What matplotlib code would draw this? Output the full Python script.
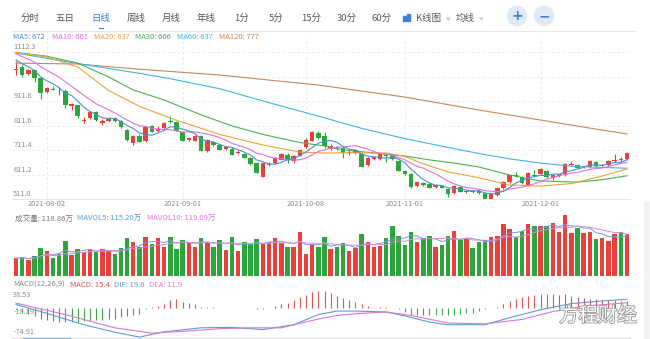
import numpy as np
import pandas as pd
import matplotlib
matplotlib.use("Agg")
import matplotlib.pyplot as plt
import matplotlib.patheffects as pe
from matplotlib.patches import Ellipse, Rectangle
from matplotlib.lines import Line2D

plt.rcParams['font.family'] = ['Noto Sans CJK SC', 'DejaVu Sans']

W, H = 650, 339

# daily candles, 2021-07-26 .. 2021-12-21
opens = [1038, 1051, 1022, 1037, 1006, 948, 962, 958, 953, 893,
         895, 828, 842, 865, 822, 832, 842, 830, 795, 740,
         767, 748, 808, 790, 801, 830, 826, 785, 752, 750,
         768, 708, 744, 730, 716, 716, 699, 695, 680, 658,
         602, 652, 658, 672, 690, 665, 688, 724, 750, 780,
         768, 716, 724, 720, 698, 700, 695, 651, 676, 676,
         692, 690, 666, 626, 613, 565, 578, 572, 560, 566,
         552, 536, 560, 540, 544, 544, 536, 513, 527, 556,
         581, 611, 601, 568, 609, 613, 626, 597, 605, 609,
         652, 650, 640, 642, 662, 648, 650, 666, 674, 675]
closes = [1042, 1018, 1039, 1006, 945, 965, 958, 955, 895, 900,
          850, 833, 867, 834, 830, 840, 830, 806, 752, 769,
          746, 805, 787, 798, 822, 824, 790, 750, 760, 769,
          708, 752, 730, 713, 722, 693, 705, 680, 656, 618,
          658, 656, 679, 695, 672, 687, 711, 752, 785, 762,
          726, 727, 716, 700, 702, 710, 643, 678, 683, 694,
          688, 676, 627, 614, 561, 580, 570, 557, 568, 557,
          532, 564, 541, 544, 541, 536, 512, 531, 556, 581,
          609, 606, 577, 617, 605, 634, 601, 609, 612, 654,
          656, 638, 643, 666, 646, 651, 666, 672, 670, 699]
highs = [1075, 1058, 1042, 1040, 1010, 968, 975, 968, 960, 905,
         897, 848, 870, 870, 838, 846, 847, 833, 798, 772,
         778, 808, 815, 808, 825, 850, 830, 788, 766, 772,
         772, 755, 750, 734, 728, 724, 712, 700, 683, 662,
         660, 662, 683, 698, 698, 692, 714, 760, 790, 790,
         785, 735, 728, 724, 712, 714, 703, 682, 688, 698,
         700, 694, 670, 630, 616, 583, 582, 576, 572, 570,
         556, 568, 564, 549, 548, 548, 540, 534, 560, 584,
         612, 620, 604, 620, 630, 637, 630, 612, 615, 657,
         666, 653, 648, 669, 666, 655, 669, 695, 682, 705]
lows = [1018, 1012, 1018, 990, 920, 945, 955, 935, 883, 875,
        842, 820, 838, 830, 813, 824, 826, 803, 750, 732,
        744, 745, 783, 787, 798, 820, 788, 748, 748, 748,
        706, 705, 726, 710, 712, 690, 697, 677, 652, 616,
        600, 645, 655, 670, 658, 660, 685, 720, 748, 758,
        720, 712, 712, 680, 693, 697, 640, 648, 672, 672,
        662, 672, 624, 611, 558, 562, 566, 554, 556, 554,
        519, 533, 538, 535, 537, 532, 511, 511, 524, 553,
        578, 600, 574, 565, 600, 610, 598, 590, 602, 606,
        648, 635, 636, 639, 643, 644, 647, 663, 664, 672]
# closes before the window, only used to start MA5 / MA10
prior_closes = [1140, 1135, 1130, 1128, 1117, 1100, 1095, 1085, 1078]

# volume, in 万
volumes = [50, 53, 45, 57, 80, 71, 50, 61, 99, 59,
           75, 69, 76, 69, 75, 71, 61, 78, 107, 95,
           83, 110, 91, 108, 81, 110, 75, 102, 97, 81,
           108, 95, 83, 102, 74, 111, 72, 97, 91, 104,
           92, 95, 107, 92, 83, 83, 125, 61, 90, 81,
           111, 76, 81, 94, 71, 78, 118, 95, 83, 85,
           107, 142, 114, 88, 123, 97, 107, 114, 83, 87,
           114, 128, 101, 107, 80, 95, 101, 111, 114, 147,
           133, 110, 128, 147, 142, 140, 142, 149, 124, 171,
           122, 137, 122, 125, 104, 107, 99, 118, 124, 118.86]

# longer moving averages read at sample candles
ma20_idx = [0, 5, 10, 15, 20, 25, 33, 40, 46, 50, 55, 60, 63, 66, 70, 75, 80, 85, 90, 95, 99]
ma20_val = [1110, 1092, 1051, 955, 890, 842, 775, 732, 703, 699, 700, 699, 685, 655, 622, 598, 568, 564, 574, 605, 634]
ma30_idx = [0, 5, 10, 15, 19, 24, 30, 35, 40, 46, 50, 53, 57, 63, 67, 71, 75, 80, 85, 91, 95, 99]
ma30_val = [1110, 1095, 1067, 1010, 957, 916, 855, 810, 775, 742, 728, 712, 702, 687, 671, 658, 642, 609, 585, 580, 590, 606]
ma60_idx = [0, 10, 20, 25, 33, 41, 49, 56, 63, 70, 75, 80, 85, 90, 95, 99]
ma60_val = [1108, 1065, 1025, 1003, 962, 905, 850, 800, 758, 722, 697, 675, 658, 645, 640, 637]
ma120_idx = [0, 10, 20, 33, 49, 63, 75, 85, 92, 99]
ma120_val = [1067, 1063, 1042, 1018, 977, 928, 875, 834, 805, 777]

# MACD(12,26,9)
macd_hist = [-3, -8, -13, -18, -24, -28, -30, -31, -32, -32,
             -31, -30, -29, -28, -27, -26, -24, -21, -19, -17,
             -14, -3, 2, 5, 10, 17, 20, 14, 12, 9,
             3, 2, 1.5, 1, 1, 0.8, 0.5, 0.5, -1, -2,
             -1.5, 1, 4, 8, 12, 17, 25, 30, 36, 38,
             38, 35, 28, 22, 17, 13, 8, 4, 1, 2,
             1.5, 1, -2, -10, -16, -17, -17, -17, -16, -16,
             -17, -15, -14, -12, -11, -6, -3, -1, 3, 9,
             15, 20, 24, 28, 30, 32, 31, 32, 30, 32,
             28, 24, 23, 21, 20, 18, 17, 17, 16, 15.4]
dif_idx = [0, 4, 11, 16, 20, 24, 30, 35, 40, 45, 49, 52, 55, 60, 63, 67, 70, 76, 80, 85, 90, 95, 99]
dif_val = [8, -8, -38, -55, -66, -54, -45, -44, -49, -38, -15, -7, -7, -9, -18, -32, -38, -38, -22, -4, 10, 16, 19.6]
dea_idx = [0, 8, 16, 22, 27, 33, 38, 43, 49, 52, 55, 60, 64, 70, 76, 82, 87, 92, 99]
dea_val = [11, -15, -45, -57, -53, -47, -45, -45, -25, -17, -13, -9, -17, -34, -36, -26, -8, 4, 11.9]

date_ticks = [5, 27, 47, 63, 85]
date_labels = ['2021-08-02', '2021-09-01', '2021-10-08', '2021-11-01', '2021-12-01']
price_grid = [511.0, 611.2, 711.4, 811.6, 911.8, 1012.0, 1112.3]
price_labels = ['511.0', '611.2', '711.4', '811.6', '911.8', '', '1112.3']
macd_ticks = [38.53, -18.19, -74.91]

RED = '#e8413c'
GREEN = '#2ba53c'
C_MA5, C_MA10, C_MA20 = '#4a8fd6', '#e070e0', '#f0a23a'
C_MA30, C_MA60, C_MA120 = '#4caf50', '#3fb5e0', '#c8855a'
GRID = '#e6e6e6'
TXT = '#8a8a8a'


def rect(x0, y0, x1, y1):
    return [x0 / W, 1 - y1 / H, (x1 - x0) / W, (y1 - y0) / H]


def ftext(x, y, s, **kw):
    kw.setdefault('va', 'center')
    fig.text(x / W, 1 - y / H, s, **kw)


fig = plt.figure(figsize=(W / 100, H / 100), dpi=100)
fig.patch.set_facecolor('white')

x = np.arange(len(closes))
o, c, h, l = (np.array(a, dtype=float) for a in (opens, closes, highs, lows))
colors = np.where(c >= o, RED, GREEN)
xlim = (-0.65, 99.5)

# ---- price panel ----
ax = fig.add_axes(rect(12, 37, 630, 199))
ax.set_xlim(*xlim)
ax.set_ylim(511.0, 1173.6)
for v in price_grid:
    ax.axhline(v, color=GRID, lw=0.6, ls=(0, (3, 3)), zorder=0)
for t in date_ticks:
    ax.axvline(t, color=GRID, lw=0.6, ls=(0, (3, 3)), zorder=0)
for v, lab in zip(price_grid, price_labels):
    ax.annotate(lab, (0.002, v), xycoords=ax.get_yaxis_transform(), xytext=(0, 3.6),
                textcoords='offset points', va='center', ha='left', fontsize=5.3, color=TXT)
for t, lab in zip(date_ticks, date_labels):
    ax.annotate(lab, (t, 0), xycoords=ax.get_xaxis_transform(), xytext=(0, -3.8),
                textcoords='offset points', va='center', ha='center', fontsize=5.3, color=TXT)

ax.vlines(x, l, h, colors=colors, lw=0.8, zorder=2)
ax.bar(x, np.maximum(np.abs(c - o), 2.5), bottom=np.minimum(o, c), width=0.72,
       color=colors, linewidth=0, zorder=2)

full = pd.Series(prior_closes + closes, dtype=float)
ma5 = full.rolling(5).mean().iloc[len(prior_closes):].values
ma10 = full.rolling(10).mean().iloc[len(prior_closes):].values
ax.plot(ma120_idx, ma120_val, color=C_MA120, lw=0.8, zorder=3)
ax.plot(ma60_idx, ma60_val, color=C_MA60, lw=0.8, zorder=3)
ax.plot(ma30_idx, ma30_val, color=C_MA30, lw=0.8, zorder=3)
ax.plot(ma20_idx, ma20_val, color=C_MA20, lw=0.8, zorder=3)
ax.plot(x, ma10, color=C_MA10, lw=0.8, zorder=3)
ax.plot(x, ma5, color=C_MA5, lw=0.8, zorder=3)

for s in ['top', 'right', 'left']:
    ax.spines[s].set_visible(False)
ax.spines['bottom'].set_color('#e2e2e2')
ax.spines['bottom'].set_linewidth(0.6)
ax.set_xticks([])
ax.set_yticks([])
ax.patch.set_alpha(0)

# ---- volume panel ----
axv = fig.add_axes(rect(12, 213, 630, 276))
axv.set_xlim(*xlim)
axv.set_ylim(0, 178)
axv.bar(x, volumes, width=0.72, color=colors, linewidth=0, zorder=2)
vol = pd.Series(volumes, dtype=float)
axv.plot(x, vol.rolling(5, min_periods=1).mean(), color='#6f9fdc', lw=0.7, zorder=3)
axv.plot(x, vol.rolling(10, min_periods=1).mean(), color='#dd88dd', lw=0.7, zorder=3)
axv.axis('off')

# ---- MACD panel ----
axm = fig.add_axes(rect(12, 291, 630, 341))
axm.set_xlim(*xlim)
axm.set_ylim(-74.91, 38.53)
hist = np.array(macd_hist)
axm.vlines(x, 0, hist, colors=np.where(hist >= 0, '#d45a5a', '#3fa34d'), lw=0.8, zorder=2)
axm.plot(dif_idx, dif_val, color='#5b9bd5', lw=0.8, zorder=3)
axm.plot(dea_idx, dea_val, color='#dd77cc', lw=0.8, zorder=3)
for v, dy in zip(macd_ticks, [-2.9, 2.9, 6.5]):
    axm.annotate(f'{v:.2f}', (0.002, v), xycoords=axm.get_yaxis_transform(), xytext=(0, dy),
                 textcoords='offset points', va='center', ha='left', fontsize=5.3,
                 color=TXT, zorder=4)
axm.axis('off')

# ---- toolbar ----
tabs = ['分时', '五日', '日线', '周线', '月线', '年线', '1分', '5分', '15分', '30分', '60分']
tab_x = [30.5, 65, 100.5, 136, 171.5, 206.5, 241.5, 276, 311.5, 346.5, 382]
for name, tx in zip(tabs, tab_x):
    ftext(tx, 18, name, ha='center', fontsize=6.8, color='#3d7fd9' if name == '日线' else '#555555')
fig.add_artist(Line2D([98.5 / W, 102.5 / W], [1 - 28 / H] * 2, color='#3d7fd9', lw=0.8))
for bx, bh in [(403, 5), (407, 7)]:
    fig.add_artist(Rectangle((bx / W, 1 - 21 / H), 2.5 / W, bh / H, color='#3d7fd9',
                             transform=fig.transFigure))
ftext(429, 18, 'K线图', ha='center', fontsize=6.8, color='#555555')
ftext(448, 19, '▼', ha='center', fontsize=3.5, color='#cccccc')
ftext(465, 18, '均线', ha='center', fontsize=6.8, color='#555555')
ftext(481, 19, '▼', ha='center', fontsize=3.5, color='#cccccc')
for cx, sym in [(517, '+'), (544, '−')]:
    fig.add_artist(Ellipse((cx / W, 1 - 16 / H), 19 / W, 19 / H, color='#dfe9f7',
                           transform=fig.transFigure))
    ftext(cx, 16, sym, ha='center', fontsize=10, color='#3d7fd9', family='DejaVu Sans',
          fontweight='bold')
fig.add_artist(Line2D([11 / W, 636 / W], [1 - 31 / H] * 2, color='#e6e6e6', lw=0.8))

# ---- legends ----
ma_leg = [('MA5: 672', C_MA5, 13), ('MA10: 661', C_MA10, 52), ('MA20: 637', C_MA20, 94),
          ('MA30: 606', C_MA30, 135), ('MA60: 637', C_MA60, 177), ('MA120: 777', C_MA120, 219)]
for s, col, tx in ma_leg:
    ftext(tx, 37, s, ha='left', fontsize=5.5, color=col)

vol_leg = [('成交量: 118.86万', '#777777', 15), ('MAVOL5: 115.20万', '#5b9bd5', 77),
           ('MAVOL10: 119.09万', '#dd77dd', 147)]
for s, col, tx in vol_leg:
    ftext(tx, 219, s, ha='left', fontsize=5.5, color=col)

macd_leg = [('MACD(12,26,9)', '#888888', 13), ('MACD: 15.4', '#e0504a', 70),
            ('DIF: 19.6', '#5b9bd5', 114), ('DEA: 11.9', '#dd77cc', 149)]
for s, col, tx in macd_leg:
    ftext(tx, 285, s, ha='left', fontsize=5.5, color=col)

# bottom scroller and side strip
fig.add_artist(Line2D([12 / W, 630 / W], [1 - 338 / H] * 2, color='#e2e2e2', lw=1.0))
fig.add_artist(Line2D([23 / W, 70 / W], [1 - 338 / H] * 2, color='#7fb0e0', lw=1.0))
fig.add_artist(Rectangle((644 / W, 0), 6 / W, 1 - 202 / H, color='#f2f2f2',
                         transform=fig.transFigure))

# watermark
ftext(598, 316, '方程财经', ha='center', fontsize=14, color='white',
      path_effects=[pe.withStroke(linewidth=1.3, foreground='#9a9a9a')])

fig.savefig('out.png', dpi=100, facecolor='white')
